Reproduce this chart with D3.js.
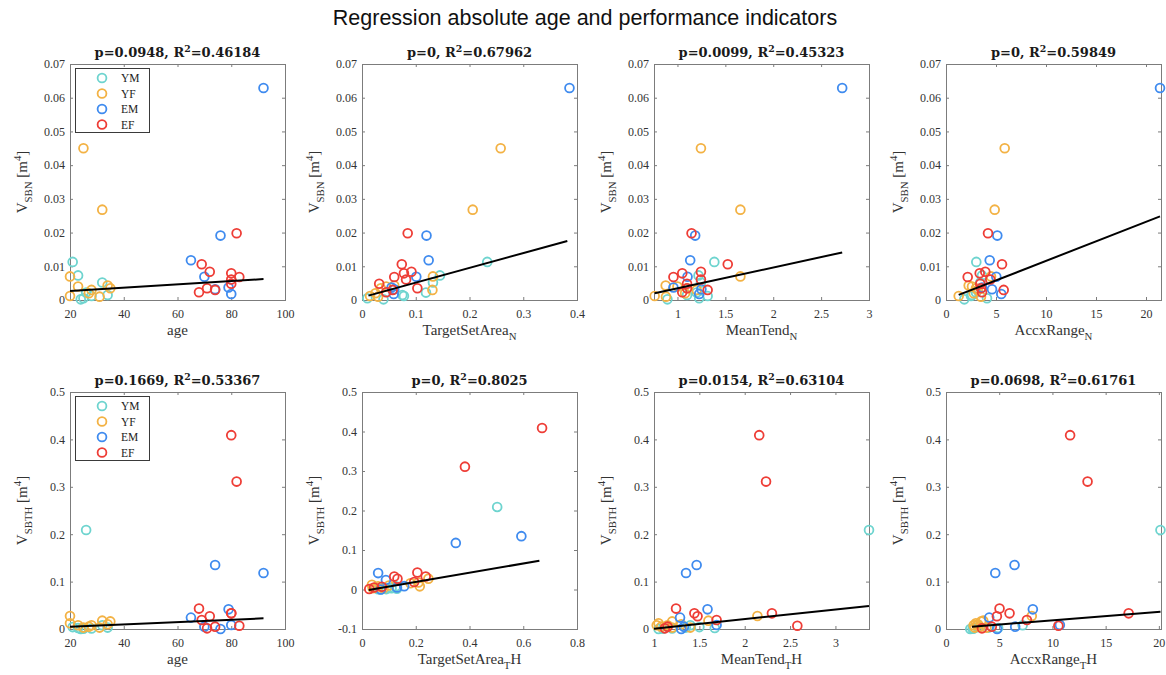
<!DOCTYPE html>
<html><head><meta charset="utf-8">
<script src="https://cdn.jsdelivr.net/npm/d3@7"></script>
<style>body{margin:0;background:#fff}</style>
</head><body>
<svg id="c" width="1166" height="675"></svg>
<script>
// ---------------- DATA ----------------
const groups = ["YM", "YF", "EM", "EF"];
const groupColors = ["#6ed4cf", "#f3b244", "#3f8bef", "#ee3d36"];
// each array: [YM, YF, EM, EF]
const age = [
  [21, 23, 32, 24, 34, 26, 28, 25],
  [25, 32, 20, 34, 23, 35, 28, 27, 20, 31],
  [92, 76, 65, 70, 79, 74, 80],
  [82, 69, 72, 80, 83, 80, 80, 71, 74, 68]
];
const vSBN = [
  [0.0113, 0.0073, 0.0052, 0.0002, 0.0015, 0.0022, 0.0012, 0.0005],
  [0.045, 0.0268, 0.007, 0.0043, 0.004, 0.0035, 0.003, 0.002, 0.0012, 0.001],
  [0.0629, 0.0191, 0.0118, 0.0069, 0.0037, 0.0032, 0.0018],
  [0.0198, 0.0106, 0.0084, 0.0079, 0.0068, 0.0061, 0.0048, 0.0035, 0.003, 0.0023]
];
const targetSetAreaN = [
  [0.233, 0.145, 0.132, 0.04, 0.075, 0.119, 0.078, 0.01],
  [0.258, 0.206, 0.132, 0.06, 0.045, 0.035, 0.131, 0.025, 0.015, 0.03],
  [0.386, 0.12, 0.124, 0.101, 0.055, 0.06, 0.059],
  [0.085, 0.074, 0.092, 0.078, 0.06, 0.082, 0.032, 0.103, 0.057, 0.045]
];
const meanTendN = [
  [1.385, 1.22, 1.245, 0.895, 1.1, 1.2, 1.315, 1.227],
  [1.245, 1.657, 1.657, 0.877, 1.0, 1.1, 1.2, 1.08, 0.762, 0.88],
  [2.72, 1.185, 1.133, 1.105, 0.958, 1.25, 1.227],
  [1.147, 1.525, 1.245, 1.05, 0.958, 1.245, 1.1, 1.1, 1.315, 1.05]
];
const accxRangeN = [
  [3.03, 3.6, 3.43, 1.83, 2.6, 3.0, 2.5, 4.1],
  [5.87, 4.87, 4.5, 2.27, 2.6, 3.0, 3.17, 2.77, 1.27, 3.5],
  [21.4, 5.13, 4.37, 5.03, 3.6, 4.6, 5.53],
  [4.2, 5.6, 3.93, 3.37, 2.17, 4.43, 3.43, 3.5, 5.77, 3.6]
];
const vSBTH = [
  [0.004, 0.002, 0.008, 0.0, 0.003, 0.209, 0.001, 0.0005],
  [0.003, 0.0176, 0.0275, 0.01, 0.008, 0.016, 0.008, 0.005, 0.012, 0.003],
  [0.118, 0.0, 0.024, 0.005, 0.0415, 0.135, 0.0085],
  [0.311, 0.019, 0.027, 0.409, 0.007, 0.033, 0.033, 0.0014, 0.005, 0.043]
];
const targetSetAreaTH = [
  [0.1, 0.13, 0.126, 0.07, 0.11, 0.503, 0.09, 0.06],
  [0.04, 0.21, 0.247, 0.1, 0.215, 0.18, 0.06, 0.05, 0.037, 0.08],
  [0.349, 0.07, 0.089, 0.13, 0.06, 0.593, 0.157],
  [0.383, 0.194, 0.132, 0.67, 0.074, 0.237, 0.12, 0.027, 0.045, 0.206]
];
const meanTendTH = [
  [1.5, 1.67, 1.4, 1.05, 1.35, 3.37, 1.2, 1.1],
  [1.2, 1.6, 2.14, 1.3, 1.03, 1.2, 1.15, 1.08, 1.05, 1.4],
  [1.353, 1.3, 1.287, 1.33, 1.59, 1.47, 1.69],
  [2.235, 1.69, 1.48, 2.16, 2.58, 2.3, 1.445, 1.12, 1.15, 1.243]
];
const accxRangeTH = [
  [3.0, 4.9, 7.2, 2.28, 4.0, 20.15, 2.6, 2.5],
  [2.7, 3.5, 8.06, 3.0, 2.6, 3.3, 2.9, 3.2, 2.8, 3.8],
  [4.63, 4.8, 4.06, 6.5, 8.16, 6.44, 10.7],
  [13.3, 7.6, 4.78, 11.66, 10.56, 17.16, 5.97, 3.38, 4.3, 5.03]
];
// regression line end points per panel
const fitX = [[20, 92], [0.012, 0.382], [0.762, 2.72], [1.27, 21.4],
              [20, 92], [0.025, 0.66], [1.0, 3.37], [2.44, 20.15]];
const fitY = [[0.0027, 0.0062], [0.0013, 0.0175], [0.002, 0.0141], [0.0015, 0.0248],
              [0.005, 0.0225], [-0.001, 0.0727], [0.0005, 0.0486], [0.005, 0.0366]];
const pValues = ["0.0948", "0", "0.0099", "0", "0.1669", "0", "0.0154", "0.0698"];
const r2Values = ["0.46184", "0.67962", "0.45323", "0.59849", "0.53367", "0.8025", "0.63104", "0.61761"];
const xTickValues = [
  [20, 40, 60, 80, 100], [0, 0.1, 0.2, 0.3, 0.4], [1, 1.5, 2, 2.5, 3], [0, 5, 10, 15, 20],
  [20, 40, 60, 80, 100], [0, 0.2, 0.4, 0.6, 0.8], [1, 1.5, 2, 2.5, 3], [0, 5, 10, 15, 20]
];
const yTicksN = [0, 0.01, 0.02, 0.03, 0.04, 0.05, 0.06, 0.07];
const yTicksTH = [0, 0.1, 0.2, 0.3, 0.4, 0.5];
const yTicksTHwide = [-0.1, 0, 0.1, 0.2, 0.3, 0.4, 0.5];
const xLabelNames = ["age", "TargetSetArea", "MeanTend", "AccxRange"];
const mainTitle = "Regression absolute age and performance indicators";

// ---------------- LAYOUT ----------------
const xDomains = [[20, 100], [0, 0.4], [0.755, 3], [0, 21.5],
                  [20, 100], [0, 0.8], [1, 3.37], [0, 20.2]];
const yDomains = [[0, 0.07], [0, 0.07], [0, 0.07], [0, 0.07],
                  [0, 0.5], [-0.1, 0.5], [0, 0.5], [0, 0.5]];
const yTickSets = [yTicksN, yTicksN, yTicksN, yTicksN, yTicksTH, yTicksTHwide, yTicksTH, yTicksTH];
const xVars = [age, targetSetAreaN, meanTendN, accxRangeN, age, targetSetAreaTH, meanTendTH, accxRangeTH];
const yVars = [vSBN, vSBN, vSBN, vSBN, vSBTH, vSBTH, vSBTH, vSBTH];

const colLeft = [70, 362, 654, 946];
const boxW = 215;
const rowTop = [64, 392];
const rowBottom = [300, 629];
const serif = "'Liberation Serif', 'Times New Roman', serif";
const frameColor = "#7c7c7c";
const tickTextColor = "#333";

const svg = d3.select("#c");
svg.append("rect").attr("width", 1166).attr("height", 675).attr("fill", "#fff");

svg.append("text")
  .attr("x", 585).attr("y", 25)
  .attr("text-anchor", "middle")
  .style("font-family", "'Liberation Sans', Arial, sans-serif")
  .style("font-size", "21.5px")
  .attr("fill", "#111")
  .text(mainTitle);

function rich(textSel, parts, size) {
  let shift = 0;
  parts.forEach(([str, kind]) => {
    const ts = textSel.append("tspan").text(str);
    let target = 0, fs = size;
    if (kind === "sub") { target = size * 0.3; fs = size * 0.72; }
    if (kind === "sup") { target = -size * 0.4; fs = size * 0.72; }
    ts.attr("dy", target - shift).style("font-size", fs + "px");
    shift = target;
  });
}

const fmt = d => String(+d.toFixed(6));

for (let i = 0; i < 8; i++) {
  const r = Math.floor(i / 4), c = i % 4;
  const L = colLeft[c], R = L + boxW, T = rowTop[r], B = rowBottom[r];
  const x = d3.scaleLinear().domain(xDomains[i]).range([L, R]);
  const y = d3.scaleLinear().domain(yDomains[i]).range([B, T]);
  const g = svg.append("g");

  // axes
  const ax = g.append("g").attr("transform", `translate(0,${B})`)
    .call(d3.axisBottom(x).tickValues(xTickValues[i]).tickSizeInner(-3).tickSizeOuter(0)
      .tickPadding(9).tickFormat(fmt));
  const ay = g.append("g").attr("transform", `translate(${L},0)`)
    .call(d3.axisLeft(y).tickValues(yTickSets[i]).tickSizeInner(-3).tickSizeOuter(0)
      .tickPadding(5).tickFormat(fmt));
  const axT = g.append("g").attr("transform", `translate(0,${T})`)
    .call(d3.axisTop(x).tickValues(xTickValues[i]).tickSizeInner(-3).tickSizeOuter(0).tickFormat(""));
  const ayR = g.append("g").attr("transform", `translate(${R},0)`)
    .call(d3.axisRight(y).tickValues(yTickSets[i]).tickSizeInner(-3).tickSizeOuter(0).tickFormat(""));
  [ax, ay, axT, ayR].forEach(a => {
    a.select(".domain").remove();
    a.selectAll(".tick line").attr("stroke", frameColor);
    a.selectAll("text").attr("fill", tickTextColor)
      .style("font-family", serif).style("font-size", "12px");
  });

  g.append("rect").attr("x", L).attr("y", T).attr("width", boxW).attr("height", B - T)
    .attr("fill", "none").attr("stroke", frameColor).attr("stroke-width", 1)
    .attr("shape-rendering", "crispEdges");

  // points
  for (let gi = 0; gi < groups.length; gi++) {
    const xs = xVars[i][gi], ys = yVars[i][gi];
    g.append("g").selectAll("circle").data(d3.range(xs.length)).join("circle")
      .attr("cx", j => x(xs[j])).attr("cy", j => y(ys[j])).attr("r", 4.4)
      .attr("fill", "none").attr("stroke", groupColors[gi]).attr("stroke-width", 1.8);
  }

  // regression line
  g.append("line")
    .attr("x1", x(fitX[i][0])).attr("y1", y(fitY[i][0]))
    .attr("x2", x(fitX[i][1])).attr("y2", y(fitY[i][1]))
    .attr("stroke", "#000").attr("stroke-width", 2);

  // title
  const tt = g.append("text").attr("x", (L + R) / 2).attr("y", T - 7)
    .attr("text-anchor", "middle").attr("fill", "#1a1a1a")
    .style("font-family", "'DejaVu Serif', serif").style("font-weight", "bold");
  rich(tt, [["p=" + pValues[i] + ", R", ""], ["2", "sup"], ["=" + r2Values[i], ""]], 13);

  // x label
  const xl = g.append("text").attr("x", (L + R) / 2).attr("y", B + 35)
    .attr("text-anchor", "middle").attr("fill", "#333")
    .style("font-family", serif);
  const nm = xLabelNames[c];
  if (c === 0) rich(xl, [[nm, ""]], 15);
  else if (r === 0) rich(xl, [[nm, ""], ["N", "sub"]], 15);
  else rich(xl, [[nm, ""], ["T", "sub"], ["H", ""]], 15);

  // y label
  const yl = g.append("text")
    .attr("transform", `translate(${L - 43},${(T + B) / 2}) rotate(-90)`)
    .attr("text-anchor", "middle").attr("fill", "#333")
    .style("font-family", serif);
  rich(yl, [["V", ""], [r === 0 ? "SBN" : "SBTH", "sub"], [" [m", ""], ["4", "sup"], ["]", ""]], 15);

  // legend
  if (c === 0) {
    const lx = L + 5, ly = T + 4;
    const lg = g.append("g");
    lg.append("rect").attr("x", lx).attr("y", ly).attr("width", 74).attr("height", 64)
      .attr("fill", "#fff").attr("stroke", "#3a3a3a").attr("stroke-width", 1)
      .attr("shape-rendering", "crispEdges");
    groups.forEach((nmG, gi) => {
      const cy = ly + 10 + gi * 15.5;
      lg.append("circle").attr("cx", lx + 27).attr("cy", cy).attr("r", 4.4)
        .attr("fill", "none").attr("stroke", groupColors[gi]).attr("stroke-width", 1.8);
      lg.append("text").attr("x", lx + 46).attr("y", cy + 4)
        .attr("fill", "#222").style("font-family", serif).style("font-size", "11.5px")
        .text(nmG);
    });
  }
}
</script>
</body></html>
